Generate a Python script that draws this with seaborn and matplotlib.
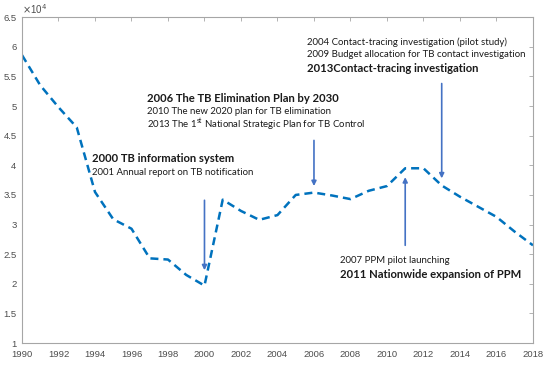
import matplotlib
matplotlib.use('Agg')
import matplotlib.pyplot as plt
import seaborn as sns
import pandas as pd
from matplotlib.ticker import FuncFormatter

years = list(range(1990, 2019))
cases = [58600, 53500, 49800, 46400, 35500, 30900, 29300, 24300, 24100, 21500,
         19700, 34200, 32300, 30800, 31600, 35000, 35400, 34900, 34300, 35700,
         36500, 39500, 39500, 36600, 34700, 33000, 31300, 28800, 26500]

# arrows: (year, start value, end value)
arrow_year = [2000, 2006, 2013, 2011]
arrow_from = [34100, 44200, 53800, 26500]
arrow_to = [22300, 36500, 37800, 38000]

labels_2000 = ['2000 TB information system', '2001 Annual report on TB notification']
labels_2006 = ['2006 The TB Elimination Plan by 2030', '2010 The new 2020 plan for TB elimination',
               '2013 The 1$^{\\mathregular{st}}$ National Strategic Plan for TB Control']
labels_2013 = ['2004 Contact-tracing investigation (pilot study)',
               '2009 Budget allocation for TB contact investigation',
               '2013Contact-tracing investigation']
labels_ppm = ['2007 PPM pilot launching', '2011 Nationwide expansion of PPM']

df = pd.DataFrame({'year': years, 'cases': cases})

sns.set_style('white')
plt.rcParams['font.family'] = ['Lato', 'DejaVu Sans']

fig = plt.figure(figsize=(5.5, 3.65), dpi=100)
ax = fig.add_axes([0.04, 0.06, 0.929, 0.893])

sns.lineplot(data=df, x='year', y='cases', ax=ax, color='#0072BD', linewidth=1.8)
ax.lines[0].set_dashes((3.2, 2.0))

for yr, y0, y1 in zip(arrow_year, arrow_from, arrow_to):
    ax.annotate('', xy=(yr, y1), xytext=(yr, y0),
                arrowprops=dict(arrowstyle='-|>', color='#4472C4', lw=1.2,
                                mutation_scale=7, shrinkA=0, shrinkB=0))

txt = '#1a1a1a'


def block(x, ys, lines, bold_idx):
    for i, (y, s) in enumerate(zip(ys, lines)):
        bold = i in bold_idx
        ax.text(x, y, s, fontsize=8.1 if bold else 6.9,
                fontweight='bold' if bold else 'normal', color=txt,
                va='center', ha='left')


block(1993.85, [41200, 38800], labels_2000, [0])
block(1996.85, [51300, 49000, 46800], labels_2006, [0])
block(2005.6, [60800, 58700, 56400], labels_2013, [2])
block(2007.45, [24000, 21500], labels_ppm, [1])

ax.set_xlim(1990, 2018)
ax.set_ylim(10000, 65000)
ax.set_xticks(range(1990, 2019, 2))
ax.set_yticks([v * 5000 for v in range(2, 14)])
ax.yaxis.set_major_formatter(FuncFormatter(lambda v, p: f'{v / 1e4:g}'))
ax.set_xlabel('')
ax.set_ylabel('')

for s in ax.spines.values():
    s.set_visible(True)
    s.set_color('#a6a6a6')
    s.set_linewidth(0.8)
ax.tick_params(direction='in', length=3, width=0.6, color='#a6a6a6',
               top=True, right=True, labelsize=6.8, labelcolor='#4d4d4d')
ax.tick_params(axis='x', pad=5)
ax.tick_params(axis='y', pad=4)
for lab in ax.get_xticklabels() + ax.get_yticklabels():
    lab.set_family(['Liberation Sans', 'DejaVu Sans'])

ax.text(0.0, 1.005, '$\\times$10$^{4}$', transform=ax.transAxes, fontsize=7,
        color='#4d4d4d', ha='left', va='bottom', family=['Liberation Sans', 'DejaVu Sans'])

fig.savefig('out.png', dpi=100)
